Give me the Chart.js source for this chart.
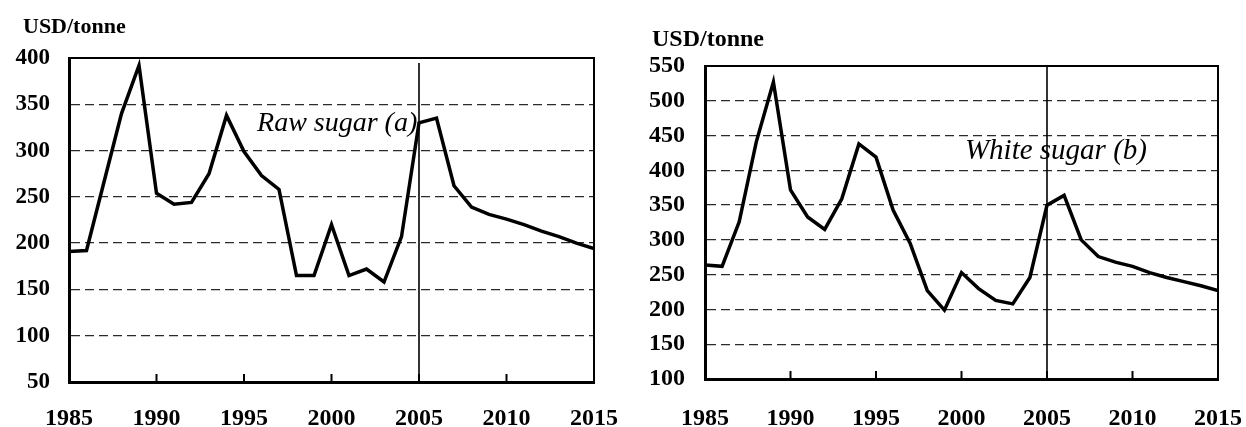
<!DOCTYPE html>
<html>
<head>
<title>Sugar prices</title>
<style>
  body { margin:0; background:#fff; }
  .box { position:absolute; top:0; height:427px; }
  #leftBox { left:0; width:620px; }
  #rightBox { left:620px; width:626px; }
</style>
</head>
<body>
<div class="box" id="leftBox"><canvas id="rawChart" width="620" height="427"></canvas></div>
<div class="box" id="rightBox"><canvas id="whiteChart" width="626" height="427"></canvas></div>
<script src="https://cdn.jsdelivr.net/npm/chart.js@4/dist/chart.umd.min.js"></script>
<script>
// years shared by both panels
var years = [1985,1986,1987,1988,1989,1990,1991,1992,1993,1994,1995,1996,1997,1998,1999,2000,
             2001,2002,2003,2004,2005,2006,2007,2008,2009,2010,2011,2012,2013,2014,2015];
// (a) raw sugar, USD/tonne
var rawSugar = [191,192,266,340,392,254,242,244,275,338,299,273,258,165,165,220,
                165,172,158,207,330,335,262,239,231,226,220,213,207,200,194];
// (b) white sugar, USD/tonne
var whiteSugar = [264,262,326,441,527,372,333,315,359,438,419,343,295,227,199,253,
                  230,213,208,246,350,364,300,276,268,262,253,246,240,234,227];
var xTicks = [1985,1990,1995,2000,2005,2010,2015];
var rawTicks = [50,100,150,200,250,300,350,400];
var whiteTicks = [100,150,200,250,300,350,400,450,500,550];
var markYear = 2005;
var unitLabel = 'USD/tonne';

var FONT = "'Liberation Serif', 'Times New Roman', serif";

// frame, 2005 marker line, inner ticks, unit label and panel caption
var decorPlugin = {
    id: 'decor',
    afterDatasetsDraw: function(chart) {
        var ctx = chart.ctx;
        var a = chart.chartArea;
        var xs = chart.scales.x, ys = chart.scales.y;
        var o = chart.options.plugins.decor;
        ctx.save();
        ctx.strokeStyle = '#000';
        // top + right frame
        ctx.lineWidth = 2;
        ctx.beginPath();
        ctx.moveTo(a.left, a.top);
        ctx.lineTo(a.right, a.top);
        ctx.lineTo(a.right, a.bottom);
        ctx.stroke();
        // vertical marker
        var mx = xs.getPixelForValue(markYear);
        ctx.lineWidth = 1.6;
        ctx.beginPath();
        ctx.moveTo(mx, a.top + o.markTop);
        ctx.lineTo(mx, a.bottom);
        ctx.stroke();
        // tick marks pointing up
        ctx.lineWidth = 2;
        xTicks.forEach(function(t) {
            if (t === xTicks[0] || t === xTicks[xTicks.length-1]) return;
            var px = xs.getPixelForValue(t);
            ctx.beginPath();
            ctx.moveTo(px, a.bottom);
            ctx.lineTo(px, a.bottom - 8);
            ctx.stroke();
        });
        ctx.fillStyle = '#000';
        // unit label above the axis
        ctx.font = 'bold ' + o.unitSize + 'px ' + FONT;
        ctx.textAlign = 'left';
        ctx.textBaseline = 'middle';
        ctx.fillText(unitLabel, o.unitX, o.unitY);
        // caption
        ctx.font = 'italic ' + o.size + 'px ' + FONT;
        ctx.textAlign = o.align;
        ctx.textBaseline = 'alphabetic';
        ctx.fillText(o.text, xs.getPixelForValue(o.atX), ys.getPixelForValue(o.atY));
        ctx.restore();
    }
};

function makeChart(id, values, yMin, yMax, yLabels, opt) {
    var pts = years.map(function(yr, i) { return {x: yr, y: values[i]}; });
    return new Chart(document.getElementById(id).getContext('2d'), {
        type: 'line',
        data: {
            datasets: [{
                data: pts,
                borderColor: '#000',
                borderWidth: 3.5,
                pointRadius: 0,
                fill: false,
                tension: 0
            }]
        },
        options: {
            responsive: false,
            animation: false,
            layout: { padding: { left: 2, right: opt.padRight, top: opt.padTop, bottom: 0 } },
            plugins: {
                legend: { display: false },
                tooltip: { enabled: false },
                decor: opt.decor
            },
            scales: {
                x: {
                    type: 'linear',
                    min: 1985, max: 2015,
                    afterBuildTicks: function(s) { s.ticks = xTicks.map(function(v) { return {value: v}; }); },
                    afterFit: function(s) {
                        s.height = opt.xHeight;
                        s.paddingLeft = 0;
                        s.paddingRight = 0;
                    },
                    grid: { display: false, drawTicks: false },
                    border: { display: true, color: '#000', width: 3 },
                    ticks: {
                        color: '#000',
                        padding: opt.xPad,
                        maxRotation: 0,
                        font: { family: FONT, size: 24, weight: 'bold' },
                        callback: function(v) { return String(v); }
                    }
                },
                y: {
                    min: yMin, max: yMax,
                    afterBuildTicks: function(s) { s.ticks = yLabels.map(function(v) { return {value: v}; }); },
                    afterFit: function(s) {
                        s.width = opt.yWidth;
                        s.paddingTop = 0;
                        s.paddingBottom = 0;
                    },
                    grid: { color: '#2a2a2a', lineWidth: 1.3, drawTicks: false },
                    border: { display: true, color: '#000', width: 3, dash: [9, 5] },
                    ticks: {
                        color: '#000',
                        padding: opt.yPad,
                        font: { family: FONT, size: opt.ySize, weight: 'bold' }
                    }
                }
            }
        },
        plugins: [decorPlugin]
    });
}

makeChart('rawChart', rawSugar, 50, 400, rawTicks, {
    padRight: 26, padTop: 58, yWidth: 67, yPad: 19, ySize: 23,
    xHeight: 45, xPad: 22,
    decor: { unitX: 23, unitY: 27, unitSize: 22,
             text: 'Raw sugar (a)', size: 28, align: 'right', atX: 2004.9, atY: 321, markTop: 5 }
});

makeChart('whiteChart', whiteSugar, 100, 550, whiteTicks, {
    padRight: 28, padTop: 66, yWidth: 83, yPad: 20, ySize: 24,
    xHeight: 48, xPad: 25,
    decor: { unitX: 32, unitY: 39.5, unitSize: 24,
             text: 'White sugar (b)', size: 29, align: 'left', atX: 2000.2, atY: 417, markTop: 0 }
});
</script>
</body>
</html>
